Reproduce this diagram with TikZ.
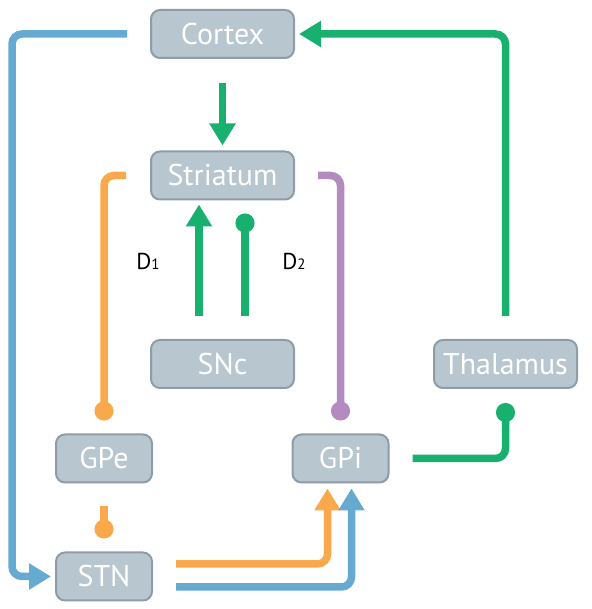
\documentclass[tikz,border=0pt]{standalone}
\usepackage{fontspec}
\setmainfont{PT Sans}
\usetikzlibrary{arrows.meta}
\definecolor{boxfill}{HTML}{B8C6CF}
\definecolor{boxline}{HTML}{8C9DA8}
\definecolor{bgblue}{HTML}{66A9D1}
\definecolor{bggreen}{HTML}{17B06F}
\definecolor{bgorange}{HTML}{F9A94B}
\definecolor{bgpurple}{HTML}{B48BBE}
\tikzset{
	region/.style={draw=boxline, fill=boxfill, line width=2pt, rounded corners=9pt, minimum width=143pt, minimum height=48pt, inner sep=0pt, text=white, font=\fontsize{30}{30}\selectfont},
	smallregion/.style={region, minimum width=96pt},
	pathway/.style={line width=7.5pt, rounded corners=10pt},
	excite/.style={pathway, -{Triangle[length=22pt,width=25pt]}},
	inhibit/.style={pathway, -{Circle[length=19pt]}},
	receptor/.style={font=\fontsize{23}{23}\selectfont},
}

\begin{document}
\begin{tikzpicture}[x=1pt, y=1pt]
		%%%%% START %%%%%
		\useasboundingbox (0, 0) rectangle (591, 609);
		
		\node[region] (cortex) at (222.5, 575) {Cortex};
		\node[region] (striatum) at (222.5, 433.5) {Striatum};
		\node[region] (snc) at (222.5, 245) {SNc};
		\node[region] (thalamus) at (505.5, 245) {Thalamus};
		\node[smallregion] (gpe) at (104, 150.5) {GPe};
		\node[smallregion] (gpi) at (340.5, 150.5) {GPi};
		\node[smallregion] (stn) at (104, 32.5) {STN};
		
		\node[receptor] (d1) at (148, 348) {D{\fontsize{15}{15}\selectfont 1}};
		\node[receptor] (d2) at (294, 348) {D{\fontsize{15}{15}\selectfont 2}};
		
		\draw[excite, bggreen, shorten <=24pt, shorten >=5pt] (cortex) -- (striatum);
		\draw[excite, bggreen, shorten <=23pt, shorten >=4pt] (thalamus.north) |- (cortex.east);
		\draw[excite, bgblue, shorten <=23pt, shorten >=4pt] (cortex.west) -- ++(-138, 0) |- (stn.west);
		
		\draw[excite, bggreen, shorten <=23pt, shorten >=4pt] ([xshift=-23.5pt]snc.north) -- ([xshift=-23.5pt]striatum.south);
		\draw[inhibit, bggreen, shorten <=23pt, shorten >=13pt] ([xshift=22.5pt]snc.north) -- ([xshift=22.5pt]striatum.south);
		
		\draw[inhibit, bgorange, shorten <=24pt, shorten >=13pt] (striatum.west) -| (gpe.north);
		\draw[inhibit, bgorange, shorten <=23pt, shorten >=13pt] (gpe) -- (stn);
		\draw[inhibit, bgpurple, shorten <=23pt, shorten >=13pt] (striatum.east) -| (gpi.north);
		\draw[inhibit, bggreen, shorten <=23pt, shorten >=14pt] (gpi.east) -| (thalamus.south);
		
		\draw[excite, bgorange, shorten <=23pt, shorten >=5pt] ([yshift=12.5pt]stn.east) -| ([xshift=-13pt]gpi.south);
		\draw[excite, bgblue, shorten <=23pt, shorten >=5pt] ([yshift=-10.5pt]stn.east) -| ([xshift=11pt]gpi.south);
		
		%%%%% END %%%%%
	\end{tikzpicture}
\end{document}
